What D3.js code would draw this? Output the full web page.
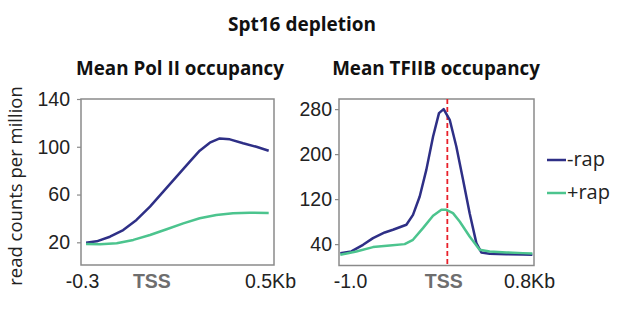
<!DOCTYPE html>
<html>
<head>
<meta charset="utf-8">
<script src="https://cdn.jsdelivr.net/npm/d3@7"></script>
<style>
  body { margin: 0; background: #fff; }
  svg { display: block; font-family: "Open Sans", "Noto Sans", sans-serif; }
</style>
</head>
<body>
<svg id="chart" width="617" height="320"></svg>
<script>
// Pol II panel (kb from TSS, read counts per million)
const polX     = [-0.279, -0.235, -0.18, -0.125, -0.07, -0.014, 0.041, 0.096, 0.151, 0.192, 0.234, 0.275, 0.317, 0.372, 0.427, 0.478];
const polMinus = [19.7, 20.8, 24.7, 30.3, 38.7, 49.9, 62.4, 75, 87.5, 96.7, 103.4, 107, 106.2, 102.9, 100, 96.7];
const polPlusX = [-0.279, -0.221, -0.152, -0.083, -0.014, 0.055, 0.124, 0.192, 0.261, 0.330, 0.399, 0.478];
const polPlus  = [18.6, 18.3, 19.2, 22, 26.1, 30.9, 35.9, 40.1, 42.9, 44.3, 44.8, 44.5];

// TFIIB panel
const tfX      = [-0.988, -0.886, -0.778, -0.686, -0.578, -0.502, -0.378, -0.317, -0.255, -0.194, -0.132, -0.077, -0.034, 0.022, 0.083, 0.145, 0.206, 0.268, 0.314, 0.391, 0.545, 0.698, 0.785];
const tfMinus  = [24, 27, 38.8, 50.7, 60.7, 65.5, 74.4, 92, 124.7, 172, 231, 272.9, 280, 261, 213.6, 154.4, 95, 41.8, 25.2, 22.8, 22.2, 21.6, 21];
const tfPlusX  = [-0.988, -0.840, -0.686, -0.532, -0.394, -0.317, -0.225, -0.132, -0.055, -0.009, 0.052, 0.114, 0.206, 0.298, 0.391, 0.545, 0.698, 0.785];
const tfPlus   = [21, 27, 34.7, 37.6, 40, 47.7, 68.4, 90.4, 101, 101, 95.1, 80.3, 53.6, 30, 27, 25.2, 24, 23.4];

const polTicks = [20, 60, 100, 140];
const tfTicks  = [40, 120, 200, 280];
const polXLabels = [[-0.3, "-0.3", 1], [0, "TSS", -2], [0.5, "0.5Kb", -4]];
const tfXLabels  = [[-1.0, "-1.0", 11], [0, "TSS", -4], [0.8, "0.8Kb", -5]];

const seriesNames = ["-rap", "+rap"];
const colors = { "-rap": "#2e2f86", "+rap": "#4cc48e" };

const svg = d3.select("#chart");

function panel(opts) {
  const x = d3.scaleLinear().domain(opts.xDomain).range([opts.left, opts.right]);
  const y = d3.scaleLinear().domain(opts.yDomain).range([opts.bottom, opts.top]);
  const g = svg.append("g");

  // frame
  g.append("rect")
    .attr("x", opts.left).attr("y", opts.top)
    .attr("width", opts.right - opts.left).attr("height", opts.bottom - opts.top)
    .attr("fill", "none").attr("stroke", "#8a8a8a").attr("stroke-width", 1.5);

  // y axis
  const yAxis = g.append("g")
    .attr("transform", `translate(${opts.left},0)`)
    .call(d3.axisLeft(y).tickValues(opts.yTicks).tickSize(4).tickPadding(opts.pad));
  yAxis.select(".domain").remove();
  yAxis.selectAll("line").attr("stroke", "#8a8a8a").attr("stroke-width", 1.2);
  yAxis.selectAll("text").attr("font-size", 19.5).attr("fill", "#222");

  // x labels
  const xAxis = g.append("g")
    .attr("transform", `translate(0,${opts.bottom})`)
    .call(d3.axisBottom(x).tickValues(opts.xLabels.map(d => d[0])).tickSize(0).tickPadding(9)
      .tickFormat((d, i) => opts.xLabels[i][1]));
  xAxis.select(".domain").remove();
  xAxis.selectAll("text")
    .attr("dx", (d, i) => opts.xLabels[i][2])
    .attr("font-size", 19.5)
    .attr("fill", (d, i) => opts.xLabels[i][1] === "TSS" ? "#6e6e6e" : "#222")
    .attr("font-weight", (d, i) => opts.xLabels[i][1] === "TSS" ? "bold" : "normal");

  if (opts.tssLine) {
    g.append("line")
      .attr("x1", x(0)).attr("x2", x(0))
      .attr("y1", opts.top).attr("y2", opts.bottom)
      .attr("stroke", "#e8202a").attr("stroke-width", 1.8)
      .attr("stroke-dasharray", "5,3");
  }

  const line = d3.line().x(d => x(d[0])).y(d => y(d[1]));
  opts.series.forEach(s => {
    g.append("path")
      .datum(d3.zip(s.xs, s.ys))
      .attr("d", line)
      .attr("fill", "none")
      .attr("stroke", colors[s.name])
      .attr("stroke-width", 2.5)
      .attr("stroke-linejoin", "round");
  });

  // panel title
  svg.append("text")
    .attr("x", opts.titleX).attr("y", 75)
    .attr("text-anchor", "middle")
    .attr("font-size", 18.8).attr("font-weight", "bold").attr("fill", "#111")
    .text(opts.title);
}

panel({
  left: 81, right: 274, top: 99, bottom: 265,
  xDomain: [-0.3, 0.5], yDomain: [1, 140],
  yTicks: polTicks, pad: 7, xLabels: polXLabels,
  title: "Mean Pol II occupancy", titleX: 180,
  series: [
    { name: "-rap", xs: polX, ys: polMinus },
    { name: "+rap", xs: polPlusX, ys: polPlus }
  ]
});

panel({
  left: 339, right: 534, top: 99, bottom: 265.5,
  xDomain: [-1.0, 0.8], yDomain: [2, 298],
  yTicks: tfTicks, pad: 3, xLabels: tfXLabels, tssLine: true,
  title: "Mean TFIIB occupancy", titleX: 436,
  series: [
    { name: "-rap", xs: tfX, ys: tfMinus },
    { name: "+rap", xs: tfPlusX, ys: tfPlus }
  ]
});

// main title
svg.append("text")
  .attr("x", 302).attr("y", 31)
  .attr("text-anchor", "middle")
  .attr("font-size", 19).attr("font-weight", "bold").attr("fill", "#111")
  .text("Spt16 depletion");

// y axis title
svg.append("text")
  .attr("transform", "translate(22,186) rotate(-90)")
  .attr("text-anchor", "middle")
  .attr("font-size", 18.5).attr("fill", "#222")
  .text("read counts per million");

// legend
const legend = svg.append("g").attr("transform", "translate(547,160)");
seriesNames.forEach((name, i) => {
  const row = legend.append("g").attr("transform", `translate(0,${i * 33})`);
  row.append("line")
    .attr("x1", 0).attr("x2", 19).attr("y1", 0).attr("y2", 0)
    .attr("stroke", colors[name]).attr("stroke-width", 2.5);
  row.append("text")
    .attr("x", 20).attr("y", 0).attr("dy", "0.32em")
    .attr("font-size", 20).attr("fill", "#222")
    .text(name);
});
</script>
</body>
</html>
